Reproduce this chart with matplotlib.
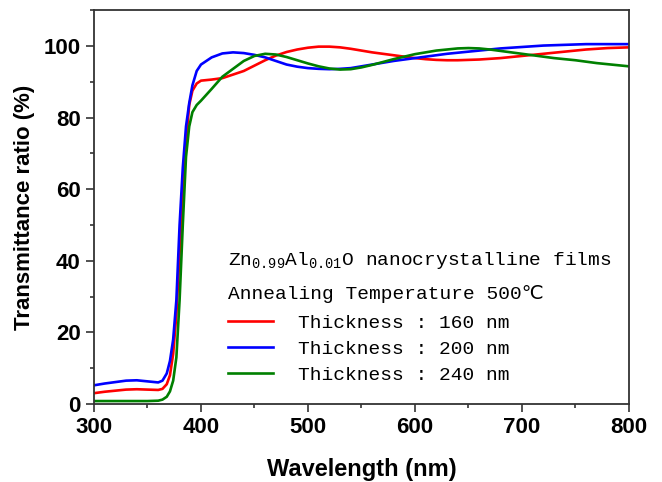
import matplotlib
matplotlib.use("Agg")
import matplotlib.pyplot as plt
from matplotlib.ticker import MultipleLocator

# longitudes de onda (nm)
wl = [300, 310, 320, 330, 340, 350, 360, 364, 368, 371, 374, 377, 380, 383, 386, 389,
      392, 396, 400, 410, 420, 430, 440, 450, 460, 470, 480, 490, 500, 510, 520, 530,
      540, 550, 560, 570, 580, 590, 600, 610, 620, 630, 640, 650, 660, 670, 680, 690,
      700, 710, 720, 730, 740, 750, 760, 770, 780, 790, 800]

t160 = [3.0, 3.4, 3.7, 4.0, 4.1, 4.0, 3.9, 4.2, 5.5, 8.0, 14.0, 25.0, 42.0, 60.0, 73.0, 83.5,
        87.5, 89.5, 90.3, 90.6, 91.0, 92.0, 93.0, 94.5, 96.0, 97.3, 98.3, 99.0, 99.5, 99.8, 99.8, 99.6,
        99.2, 98.7, 98.2, 97.8, 97.4, 97.0, 96.6, 96.3, 96.1, 96.0, 96.0, 96.1, 96.2, 96.4, 96.6, 96.9,
        97.2, 97.5, 97.8, 98.1, 98.4, 98.7, 99.0, 99.2, 99.4, 99.5, 99.6]

t200 = [5.2, 5.7, 6.1, 6.5, 6.6, 6.3, 6.0, 6.5, 8.5, 12.0, 18.0, 29.0, 50.0, 66.0, 77.5, 84.0,
        89.0, 93.0, 94.8, 96.8, 97.9, 98.2, 98.0, 97.5, 96.8, 95.8, 94.8, 94.2, 93.8, 93.6, 93.5, 93.6,
        93.8, 94.3, 94.8, 95.3, 95.8, 96.2, 96.6, 97.0, 97.4, 97.8, 98.1, 98.4, 98.7, 99.0, 99.3, 99.5,
        99.7, 99.9, 100.1, 100.2, 100.3, 100.4, 100.5, 100.5, 100.5, 100.5, 100.5]

t240 = [0.8, 0.8, 0.8, 0.8, 0.8, 0.8, 0.9, 1.2, 2.0, 3.5, 6.5, 13.0, 29.0, 50.0, 69.0, 77.5,
        81.5, 83.5, 84.7, 88.0, 91.4, 93.6, 95.8, 97.2, 97.8, 97.6, 96.9, 96.0, 95.1, 94.3, 93.7, 93.4,
        93.5, 94.0, 94.7, 95.5, 96.3, 97.0, 97.7, 98.2, 98.7, 99.0, 99.3, 99.4, 99.3, 99.0, 98.6, 98.2,
        97.8, 97.4, 97.0, 96.6, 96.3, 96.0, 95.6, 95.2, 94.9, 94.6, 94.3]

labels = ["Thickness : 160 nm", "Thickness : 200 nm", "Thickness : 240 nm"]
colors = ["#ff0000", "#0000ff", "#008000"]

plt.rcParams["mathtext.fontset"] = "custom"
plt.rcParams["mathtext.rm"] = "Liberation Mono"
plt.rcParams["mathtext.it"] = "Liberation Mono"

fig = plt.figure(figsize=(6.62, 4.82), dpi=100)
ax = fig.add_axes([0.142, 0.162, 0.808, 0.817])

for y, lab, c in zip([t160, t200, t240], labels, colors):
    ax.plot(wl, y, color=c, lw=1.9, label=lab)

ax.set_xlim(300, 800)
ax.set_ylim(0, 110)
ax.xaxis.set_major_locator(MultipleLocator(100))
ax.xaxis.set_minor_locator(MultipleLocator(50))
ax.yaxis.set_major_locator(MultipleLocator(20))
ax.yaxis.set_minor_locator(MultipleLocator(10))
ax.tick_params(which="both", direction="out", width=1.2, color="#333333")
ax.tick_params(which="major", length=6, labelsize=16)
ax.tick_params(which="minor", length=3)
for lab in ax.get_xticklabels() + ax.get_yticklabels():
    lab.set_fontfamily("Liberation Sans")
    lab.set_fontweight("bold")
for s in ax.spines.values():
    s.set_linewidth(1.3)
    s.set_color("#333333")

ax.set_xlabel("Wavelength (nm)", fontsize=17, fontweight="bold", family="Liberation Sans", labelpad=14)
ax.set_ylabel("Transmittance ratio (%)", fontsize=16, fontweight="bold", family="Liberation Sans", labelpad=6)

ax.text(0.2505, 0.363, r"Zn$_{\mathrm{0.99}}$Al$_{\mathrm{0.01}}$O nanocrystalline films",
        transform=ax.transAxes, fontsize=14, family=["Liberation Mono", "DejaVu Sans"], va="center")
ax.text(0.2505, 0.279, "Annealing Temperature 500\u2103",
        transform=ax.transAxes, fontsize=14, family=["Liberation Mono", "DejaVu Sans"], va="center")

ax.legend(loc="upper left", bbox_to_anchor=(0.2505, 0.228), frameon=False,
          prop={"family": "Liberation Mono", "size": 14}, handlelength=2.3,
          handletextpad=1.3, labelspacing=0.43, borderpad=0, borderaxespad=0)

plt.savefig("out.png", dpi=100)
